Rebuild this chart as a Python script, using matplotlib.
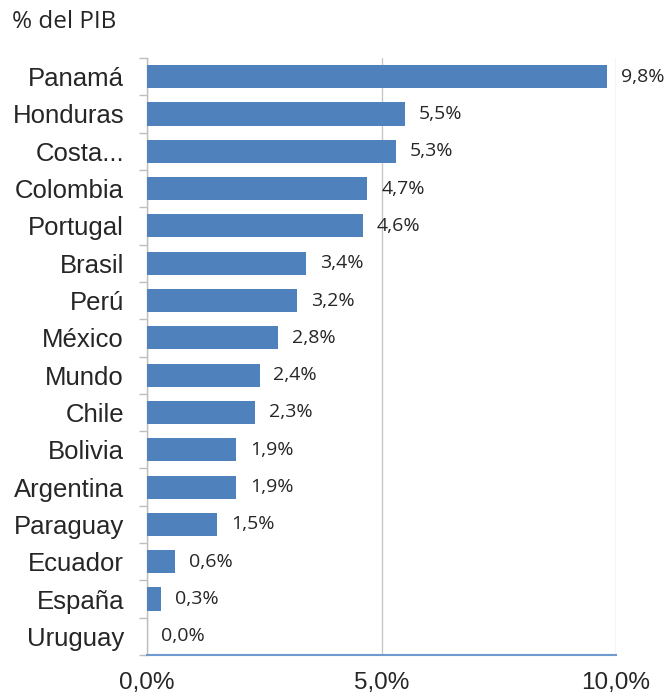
import matplotlib
matplotlib.use("Agg")
import matplotlib.pyplot as plt
from matplotlib.ticker import FixedLocator

countries = ["Panamá", "Honduras", "Costa...", "Colombia", "Portugal", "Brasil", "Perú",
             "México", "Mundo", "Chile", "Bolivia", "Argentina", "Paraguay", "Ecuador",
             "España", "Uruguay"]
values = [9.8, 5.5, 5.3, 4.7, 4.6, 3.4, 3.2, 2.8, 2.4, 2.3, 1.9, 1.9, 1.5, 0.6, 0.3, 0.0]
xticks = [0, 5, 10]
xticklabels = ["0,0%", "5,0%", "10,0%"]

fig = plt.figure(figsize=(6.69, 6.98), dpi=100)
ax = fig.add_axes([147/669, 43/698, (616-147)/669, (655-58)/698])

n = len(countries)
ypos = list(range(n))
ax.barh(ypos, values, height=0.62, color="#4F81BD", zorder=3)
ax.set_ylim(n - 0.5, -0.5)
ax.set_xlim(0, 10)

for y, v in zip(ypos, values):
    ax.annotate(f"{v:.1f}%".replace(".", ","), xy=(v, y), xytext=(10, 0),
                textcoords="offset points", va="center", ha="left",
                fontsize=14, family="Open Sans", color="#262626", zorder=4)

ax.set_yticks(ypos)
ax.set_yticklabels(countries, fontsize=18.5, family="Liberation Sans", color="#262626")
ax.yaxis.set_minor_locator(FixedLocator([i - 0.5 for i in range(n + 1)]))
ax.tick_params(axis="y", which="major", length=0, pad=16.5)
ax.tick_params(axis="y", which="minor", length=6, color="#BFBFBF", width=1)

ax.set_xticks(xticks)
ax.set_xticklabels(xticklabels, fontsize=17.5, family="Liberation Sans", color="#262626")
ax.tick_params(axis="x", length=0, pad=12)

ax.grid(axis="x", color="#C8C8C8", linewidth=1, zorder=0)
for s in ["top", "right"]:
    ax.spines[s].set_visible(False)
ax.spines["left"].set_color("#BFBFBF")
ax.spines["left"].set_linewidth(1)
ax.spines["bottom"].set_color("#6F9AD0")
ax.spines["bottom"].set_linewidth(1.5)

fig.text(12/669, 1 - 22/698, "% del PIB", fontsize=17.5, family="Open Sans",
         color="#262626", va="center", ha="left")

fig.savefig("out.png", dpi=100)
